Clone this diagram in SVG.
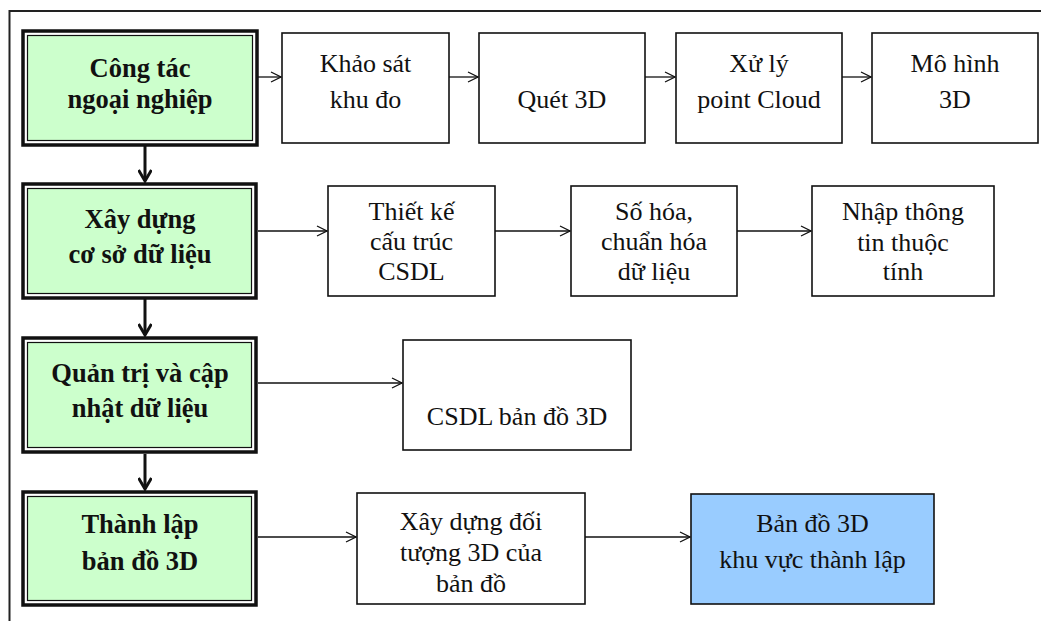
<svg xmlns="http://www.w3.org/2000/svg" width="1041" height="621" viewBox="0 0 1041 621">
<style>
.frame{fill:none;stroke:#222;stroke-width:2}
.gout{fill:none;stroke:#111;stroke-width:3.5}
.gin{fill:#ccffcc;stroke:#111;stroke-width:1.2}
.box{fill:#fff;stroke:#111;stroke-width:1.6}
.blue{fill:#99ccff;stroke:#111;stroke-width:1.6}
.t{font-family:"Liberation Serif","DejaVu Serif",serif;font-size:26px;fill:#111;text-anchor:middle}
.b{font-family:"Liberation Serif","DejaVu Serif",serif;font-size:26.5px;font-weight:bold;fill:#111;text-anchor:middle}
.h{stroke:#111;stroke-width:1.3;fill:none}
.v{stroke:#111;stroke-width:3;fill:none}
</style>
<defs>
<marker id="ah" viewBox="0 0 12 12" refX="11" refY="6" markerWidth="12" markerHeight="12" markerUnits="userSpaceOnUse" orient="auto">
<path d="M1,1 L11,6 L1,11" fill="none" stroke="#111" stroke-width="1.3"/>
</marker>
<marker id="av" viewBox="0 0 14 14" refX="12" refY="7" markerWidth="14" markerHeight="14" markerUnits="userSpaceOnUse" orient="auto">
<path d="M1,0.5 L12,7 L1,13.5" fill="none" stroke="#111" stroke-width="3"/>
</marker>
</defs>
<rect width="1041" height="621" fill="#fff"/>
<path class="frame" d="M9.5,621 V11 H1041"/>

<g id="connectors">
<line class="v" x1="145" y1="146" x2="145" y2="181" marker-end="url(#av)"/>
<line class="v" x1="145" y1="299" x2="145" y2="335" marker-end="url(#av)"/>
<line class="v" x1="145" y1="454" x2="145" y2="489" marker-end="url(#av)"/>
<line class="h" x1="258" y1="77" x2="281" y2="77" marker-end="url(#ah)"/>
<line class="h" x1="449" y1="77" x2="478" y2="77" marker-end="url(#ah)"/>
<line class="h" x1="645" y1="77" x2="675" y2="77" marker-end="url(#ah)"/>
<line class="h" x1="842" y1="77" x2="871" y2="77" marker-end="url(#ah)"/>
<line class="h" x1="258" y1="231" x2="327" y2="231" marker-end="url(#ah)"/>
<line class="h" x1="495" y1="231" x2="570" y2="231" marker-end="url(#ah)"/>
<line class="h" x1="737" y1="231" x2="811" y2="231" marker-end="url(#ah)"/>
<line class="h" x1="258" y1="383" x2="402" y2="383" marker-end="url(#ah)"/>
<line class="h" x1="258" y1="537" x2="356" y2="537" marker-end="url(#ah)"/>
<line class="h" x1="585" y1="537" x2="690" y2="537" marker-end="url(#ah)"/>
</g>

<g id="n-congtac">
<rect class="gout" x="23" y="31" width="234" height="114"/>
<rect class="gin" x="27.5" y="35.5" width="225" height="105"/>
<text class="b" x="140" y="77">Công tác</text>
<text class="b" x="140" y="108">ngoại nghiệp</text>
</g>
<g id="n-xaydung">
<rect class="gout" x="23" y="184" width="233" height="114"/>
<rect class="gin" x="27.5" y="188.5" width="224" height="105"/>
<text class="b" x="140" y="228">Xây dựng</text>
<text class="b" x="140" y="263">cơ sở dữ liệu</text>
</g>
<g id="n-quantri">
<rect class="gout" x="23" y="338" width="233" height="114"/>
<rect class="gin" x="27.5" y="342.5" width="224" height="105"/>
<text class="b" x="140" y="382">Quản trị và cập</text>
<text class="b" x="140" y="417">nhật dữ liệu</text>
</g>
<g id="n-thanhlap">
<rect class="gout" x="23" y="492" width="233" height="113"/>
<rect class="gin" x="27.5" y="496.5" width="224" height="104"/>
<text class="b" x="140" y="533">Thành lập</text>
<text class="b" x="140" y="570">bản đồ 3D</text>
</g>

<g id="n-khaosat">
<rect class="box" x="282" y="33" width="167" height="110"/>
<text class="t" x="365.5" y="72">Khảo sát</text>
<text class="t" x="365.5" y="108">khu đo</text>
</g>
<g id="n-quet3d">
<rect class="box" x="479" y="33" width="166" height="110"/>
<text class="t" x="562" y="108">Quét 3D</text>
</g>
<g id="n-xuly">
<rect class="box" x="676" y="33" width="166" height="110"/>
<text class="t" x="759" y="72">Xử lý</text>
<text class="t" x="759" y="108">point Cloud</text>
</g>
<g id="n-mohinh">
<rect class="box" x="872" y="33" width="166" height="110"/>
<text class="t" x="955" y="72">Mô hình</text>
<text class="t" x="955" y="108">3D</text>
</g>

<g id="n-thietke">
<rect class="box" x="328" y="186" width="167" height="110"/>
<text class="t" x="411.5" y="220">Thiết kế</text>
<text class="t" x="411.5" y="250">cấu trúc</text>
<text class="t" x="411.5" y="280">CSDL</text>
</g>
<g id="n-sohoa">
<rect class="box" x="571" y="186" width="166" height="110"/>
<text class="t" x="654" y="220">Số hóa,</text>
<text class="t" x="654" y="250">chuẩn hóa</text>
<text class="t" x="654" y="280">dữ liệu</text>
</g>
<g id="n-nhap">
<rect class="box" x="812" y="186" width="182" height="110"/>
<text class="t" x="903" y="220">Nhập thông</text>
<text class="t" x="903" y="251">tin thuộc</text>
<text class="t" x="903" y="280">tính</text>
</g>

<g id="n-csdl">
<rect class="box" x="403" y="340" width="228" height="110"/>
<text class="t" x="517" y="425">CSDL bản đồ 3D</text>
</g>

<g id="n-doituong">
<rect class="box" x="357" y="493" width="228" height="111"/>
<text class="t" x="471" y="530">Xây dựng đối</text>
<text class="t" x="471" y="561">tượng 3D của</text>
<text class="t" x="471" y="592">bản đồ</text>
</g>
<g id="n-bando">
<rect class="blue" x="691" y="494" width="243" height="110"/>
<text class="t" x="812.5" y="532">Bản đồ 3D</text>
<text class="t" x="812.5" y="568">khu vực thành lập</text>
</g>
</svg>
